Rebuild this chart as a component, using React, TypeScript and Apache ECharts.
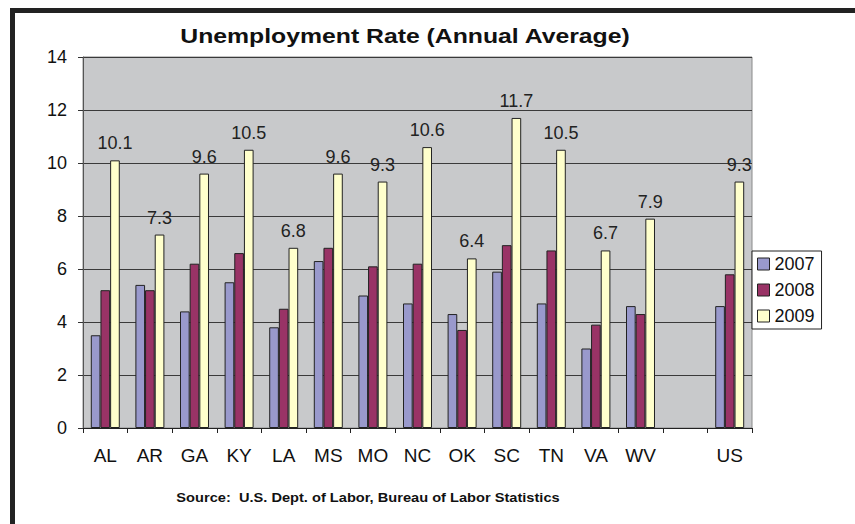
import React, { useEffect, useRef } from "react";
import * as echarts from "echarts";

const categories = ["AL", "AR", "GA", "KY", "LA", "MS", "MO", "NC", "OK", "SC", "TN", "VA", "WV", "", "US"];
const seriesNames = ["2007", "2008", "2009"];
const values2007 = [3.5, 5.4, 4.4, 5.5, 3.8, 6.3, 5.0, 4.7, 4.3, 5.9, 4.7, 3.0, 4.6, null, 4.6];
const values2008 = [5.2, 5.2, 6.2, 6.6, 4.5, 6.8, 6.1, 6.2, 3.7, 6.9, 6.7, 3.9, 4.3, null, 5.8];
const values2009 = [10.1, 7.3, 9.6, 10.5, 6.8, 9.6, 9.3, 10.6, 6.4, 11.7, 10.5, 6.7, 7.9, null, 9.3];
const colors = ["#9999cc", "#993366", "#ffffcc"];

const FONT = "'Liberation Sans', Arial, Helvetica, sans-serif";

export default function App() {
  const ref = useRef<HTMLDivElement>(null);
  useEffect(() => {
    if (!ref.current) return;
    const chart = echarts.init(ref.current, undefined, { renderer: "svg" });
    const data = [values2007, values2008, values2009];
    chart.setOption({
      animation: false,
      textStyle: { fontFamily: FONT },
      grid: {
        left: 83,
        top: 57,
        right: 103,
        bottom: 96,
        show: true,
        backgroundColor: "#c8c9cb",
        borderColor: "#8a8a8a",
        borderWidth: 1,
      },
      legend: {
        orient: "vertical",
        left: 752,
        top: 251,
        data: seriesNames,
        backgroundColor: "#ffffff",
        borderColor: "#222",
        borderWidth: 1,
        borderRadius: 0,
        padding: [4, 7, 4, 5],
        itemGap: 8,
        itemWidth: 12,
        itemHeight: 12,
        icon: "rect",
        itemStyle: { borderColor: "#222", borderWidth: 1 },
        textStyle: { fontSize: 18, color: "#111", fontFamily: FONT },
      },
      xAxis: {
        type: "category",
        data: categories,
        axisLine: { lineStyle: { color: "#222", width: 1 } },
        axisTick: { show: true, length: 5, lineStyle: { color: "#222" } },
        axisLabel: { fontSize: 19, color: "#111", margin: 18, fontFamily: FONT, interval: 0 },
      },
      yAxis: {
        type: "value",
        min: 0,
        max: 14,
        interval: 2,
        axisLine: { show: true, lineStyle: { color: "#555", width: 1 } },
        axisTick: { show: true, length: 5, lineStyle: { color: "#333" } },
        axisLabel: { fontSize: 18, color: "#111", margin: 16, fontFamily: FONT },
        splitLine: { show: true, lineStyle: { color: "#3a3a3a", width: 1 } },
      },
      series: seriesNames.map((name, i) => ({
        name,
        type: "bar",
        data: data[i],
        barGap: "0%",
        barCategoryGap: "35%",
        itemStyle: { color: colors[i], borderColor: "#222", borderWidth: 1 },
        label:
          i === 2
            ? {
                show: true,
                position: "top",
                distance: 8,
                fontSize: 18,
                color: "#222",
                fontFamily: FONT,
              }
            : { show: false },
      })),
      graphic: [
        { type: "rect", shape: { x: 10, y: 8, width: 845, height: 5 }, style: { fill: "#222" }, silent: true },
        { type: "rect", shape: { x: 10, y: 8, width: 5, height: 516 }, style: { fill: "#222" }, silent: true },
        {
          type: "text",
          x: 405,
          y: 36,
          scaleX: 1.18,
          style: {
            text: "Unemployment Rate (Annual Average)",
            fontSize: 21,
            fontWeight: "bold",
            fontFamily: FONT,
            fill: "#111",
            textAlign: "center",
            textVerticalAlign: "middle",
          },
        },
        {
          type: "text",
          x: 368,
          y: 498,
          scaleX: 1.17,
          style: {
            text: "Source:\u00a0 U.S. Dept. of Labor, Bureau of Labor Statistics",
            fontSize: 12.5,
            fontWeight: "bold",
            fontFamily: FONT,
            fill: "#111",
            textAlign: "center",
            textVerticalAlign: "middle",
          },
        },
      ],
    });
    return () => chart.dispose();
  }, []);
  return (
    <div
      ref={ref}
      style={{ position: "fixed", left: 0, top: 0, width: 855, height: 524, background: "#fff" }}
    />
  );
}
